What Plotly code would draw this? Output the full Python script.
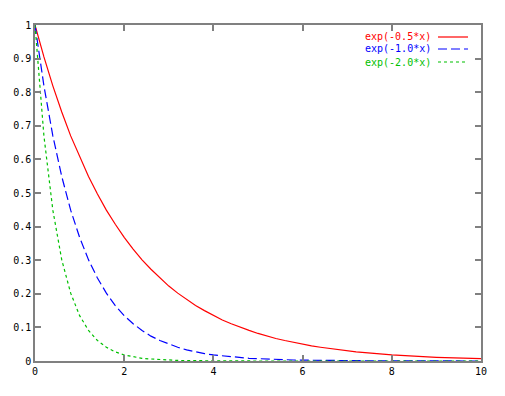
import plotly.graph_objects as go

x_vals = [round(0.2 * i, 1) for i in range(51)]

exp_half = [1.000, 0.905, 0.819, 0.741, 0.670, 0.607, 0.549, 0.497, 0.449, 0.407,
            0.368, 0.333, 0.301, 0.273, 0.247, 0.223, 0.202, 0.183, 0.165, 0.150,
            0.135, 0.122, 0.111, 0.100, 0.091, 0.082, 0.074, 0.067, 0.061, 0.055,
            0.050, 0.045, 0.041, 0.037, 0.033, 0.030, 0.027, 0.025, 0.022, 0.020,
            0.018, 0.017, 0.015, 0.014, 0.012, 0.011, 0.010, 0.009, 0.008, 0.007,
            0.007]

exp_one = [1.000, 0.819, 0.670, 0.549, 0.449, 0.368, 0.301, 0.247, 0.202, 0.165,
           0.135, 0.111, 0.091, 0.074, 0.061, 0.050, 0.041, 0.033, 0.027, 0.022,
           0.018, 0.015, 0.012, 0.010, 0.008, 0.007, 0.0055, 0.0045, 0.0037, 0.0030,
           0.0025, 0.0020, 0.0017, 0.0014, 0.0011, 0.0009, 0.0007, 0.0006, 0.0005, 0.0004,
           0.0003, 0.0003, 0.0002, 0.0002, 0.0002, 0.0001, 0.0001, 0.0001, 0.0001, 0.0001,
           0.0000]

exp_two = [1.000, 0.670, 0.449, 0.301, 0.202, 0.135, 0.091, 0.061, 0.041, 0.027,
           0.018, 0.012, 0.008, 0.006, 0.004, 0.002, 0.0017, 0.0011, 0.0007, 0.0005,
           0.0003, 0.0002, 0.0002, 0.0001, 0.0001, 0.0000, 0.0, 0.0, 0.0, 0.0,
           0.0, 0.0, 0.0, 0.0, 0.0, 0.0, 0.0, 0.0, 0.0, 0.0,
           0.0, 0.0, 0.0, 0.0, 0.0, 0.0, 0.0, 0.0, 0.0, 0.0,
           0.0]

series_names = ["exp(-0.5*x)", "exp(-1.0*x)", "exp(-2.0*x)"]
series_colors = ["#ff0000", "#0000ff", "#00c000"]
series_dash = ["solid", "9px,4px", "3px,3px"]

x_ticks = [0, 2, 4, 6, 8, 10]
y_ticks = [0, 0.1, 0.2, 0.3, 0.4, 0.5, 0.6, 0.7, 0.8, 0.9, 1]
y_tick_text = ["0", "0.1", "0.2", "0.3", "0.4", "0.5", "0.6", "0.7", "0.8", "0.9", "1"]

FONT = "DejaVu Sans Mono"

fig = go.Figure()
for ys, name, col, dash in zip([exp_half, exp_one, exp_two], series_names, series_colors, series_dash):
    fig.add_trace(go.Scatter(x=x_vals, y=ys, mode="lines", name=name,
                             line=dict(color=col, width=1.2, dash=dash),
                             showlegend=False))

# page has an 8px body margin; figure sized to fit the 505x396 window
OFF = 8
W, H = 505 - OFF, 396 - OFF
L, R, T, B = 35 - OFF, 24, 25 - OFF, 35
pw, ph = W - L - R, H - T - B

def px_to_paper_x(px):
    return (px - OFF - L) / pw

def px_to_paper_y(py):
    return 1 - (py - OFF - T) / ph

# gnuplot-style key: right-aligned text followed by line sample
rows_y = [37, 49, 62]
for name, col, dash, ry in zip(series_names, series_colors, series_dash, rows_y):
    yp = px_to_paper_y(ry)
    fig.add_annotation(xref="paper", yref="paper", x=px_to_paper_x(433), y=yp,
                       text=name, showarrow=False, xanchor="right", yanchor="middle",
                       font=dict(family=FONT, size=10, color=col))
    fig.add_shape(type="line", xref="paper", yref="paper",
                  x0=px_to_paper_x(438), x1=px_to_paper_x(468), y0=yp, y1=yp,
                  line=dict(color=col, width=1.2, dash=dash))

axis_common = dict(showgrid=False, zeroline=False, showline=True, linecolor="#808080",
                   linewidth=1.5, mirror="ticks", ticks="inside", ticklen=6,
                   tickcolor="#808080", tickwidth=1.5, automargin=False,
                   tickfont=dict(family=FONT, size=10, color="black"))

fig.update_xaxes(range=[0, 10], tickvals=x_ticks, ticktext=[str(v) for v in x_ticks], **axis_common)
fig.update_yaxes(range=[0, 1], tickvals=y_ticks, ticktext=y_tick_text, **axis_common)

fig.update_layout(width=W, height=H, margin=dict(l=L, r=R, t=T, b=B, autoexpand=False),
                  plot_bgcolor="white", paper_bgcolor="white",
                  font=dict(family=FONT, size=10, color="black"))

fig.write_html("out.html")
